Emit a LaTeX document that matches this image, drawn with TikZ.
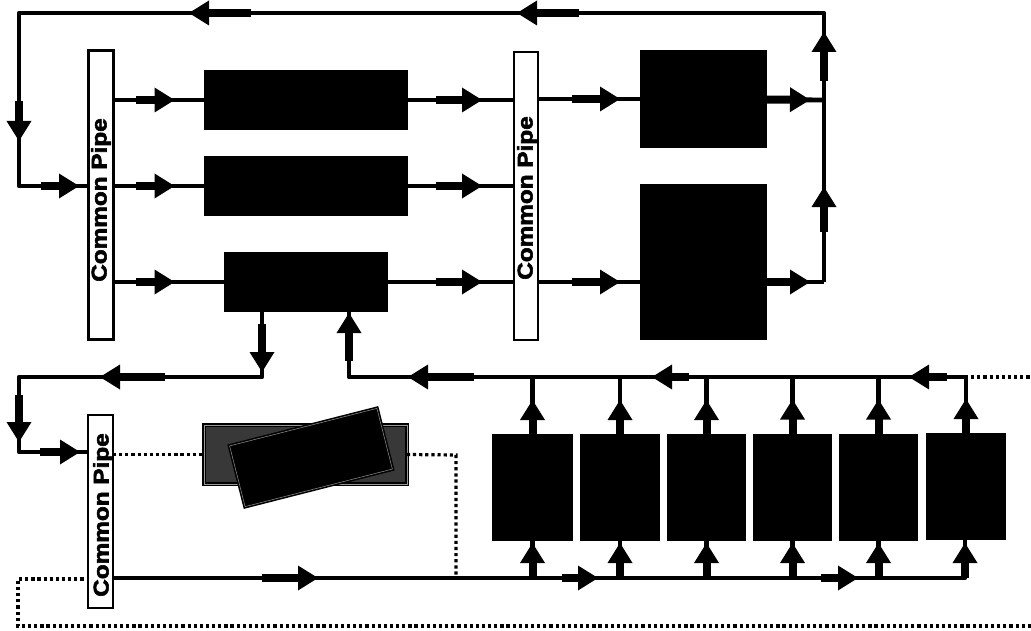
\documentclass[tikz,border=0pt]{standalone}
\usepackage{fontspec}
\setsansfont[BoldFeatures={FakeBold=2.5}]{Liberation Sans}
\usetikzlibrary{decorations.markings}

\tikzset{every picture/.style={line width=0.75pt}}
\tikzset{
	block/.style 2 args={fill=black,inner sep=0pt,outer sep=0pt,minimum width=#1*0.75pt,minimum height=#2*0.75pt},
	pipebox/.style 2 args={draw=black,line width=2.2pt,fill=white,inner sep=0pt,outer sep=0pt,minimum width=#1*0.75pt,minimum height=#2*0.75pt},
	pipetext/.style={rotate=90,inner sep=0pt,font=\sffamily\bfseries\fontsize{16}{16}\selectfont},
	pipe/.style={draw=black,line width=3.6pt,line join=round},
	dotline/.style={draw=black,line width=2.4pt,dash pattern=on 2.4pt off 2.2pt},
	flow/.style 2 args={postaction={decorate,decoration={markings,mark=at position #1*0.75pt with {\fill[black] (-#2,-4) rectangle (-10,4); \fill[black] (-20,-12.5) -- (0,0) -- (-20,12.5) -- cycle;}}}},
}

\begin{document}
\begin{tikzpicture}[x=0.75pt,y=0.75pt,yscale=-1,xscale=1]
	\useasboundingbox (0,0) rectangle (1031,631);

	% Turn points
	\coordinate (jD) at (824,100);
	\coordinate (jE) at (824,282);
	\coordinate (topR) at (824,13);
	\coordinate (topL) at (19,13);
	\coordinate (feedA) at (19,186);
	\coordinate (cDown) at (262,377);
	\coordinate (cUp) at (349,377);
	\coordinate (retL) at (19,377);
	\coordinate (feedC) at (19,452);
	\coordinate (retR) at (965,377);
	\coordinate (supR) at (965,578);
	\coordinate (dotTop) at (1031,377);
	\coordinate (dotBR) at (1031,626);
	\coordinate (dotBL) at (18,626);
	\coordinate (dotUp) at (18,579);
	\coordinate (dotTurn) at (456,455);
	\coordinate (dotEnd) at (456,578);

	% Common pipes
	\node[pipebox={25}{289}] (pipeA) at (101,195) {};
	\node[pipebox={24}{288}] (pipeB) at (526,196) {};
	\node[pipebox={25}{193}] (pipeC) at (100.5,511.5) {};

	% Upper blocks
	\node[block={204}{60}] (boxA) at (306,100) {};
	\node[block={204}{60}] (boxB) at (306,186) {};
	\node[block={164}{60}] (boxC) at (306,282) {};
	\node[block={127}{98}] (boxD) at (703.5,99) {};
	\node[block={127}{156}] (boxE) at (703.5,262) {};

	% Lower blocks
	\node[block={81}{107}] (unitA) at (532.5,487.5) {};
	\node[block={80}{107}] (unitB) at (620,487.5) {};
	\node[block={79}{107}] (unitC) at (706.5,487.5) {};
	\node[block={79}{107}] (unitD) at (792.5,487) {};
	\node[block={79}{107}] (unitE) at (878.5,487) {};
	\node[block={80}{107}] (unitF) at (966,486.5) {};

	% Gray block and the tilted block over it
	\node[draw=black,double=black!40,line width=1.2pt,double distance=0.4pt,fill=black!78,inner sep=0pt,outer sep=0pt,minimum width=152pt,minimum height=44pt] (boxG) at (305.5,454.5) {};
	\node[draw=black,double=black!45,line width=1.2pt,double distance=0.4pt,fill=black,inner sep=0pt,rotate=14.3,minimum width=114pt,minimum height=47pt] (boxT) at (311,457.5) {};

	% Dotted lines
	\draw[dotline] (pipeC.east |- boxG) -- (boxG.west);
	\draw[dotline] (boxG.east) -- (dotTurn) -- (dotEnd);
	\draw[dotline] (retR) -- (dotTop);
	\draw[dotline] (dotBR) -- (dotBL) -- (dotUp) -- (pipeC.west |- dotUp);

	% Outer loop
	\draw[pipe,flow={95}{45},flow={250}{49},flow={576}{62},flow={904}{62},flow={1202}{40},flow={1307}{38}] (jE) -- (topR) -- (topL) -- (feedA) -- (pipeA.west |- feedA);

	% Rows from the first pipe
	\draw[pipe,flow={61}{39}] (pipeA.east |- boxA) -- (boxA);
	\draw[pipe,flow={61}{39}] (pipeA.east |- boxB) -- (boxB);
	\draw[pipe,flow={61}{39}] (pipeA.east |- boxC) -- (boxC);

	% Rows to the second pipe
	\draw[pipe,flow={74}{46}] (boxA) -- (pipeB.west |- boxA);
	\draw[pipe,flow={74}{46}] (boxB) -- (pipeB.west |- boxB);
	\draw[pipe,flow={94}{46}] (boxC) -- (pipeB.west |- boxC);

	% Rows from the second pipe
	\draw[pipe,flow={82}{48}] (pipeB.east |- boxD) -- (boxD);
	\draw[pipe,flow={82}{48}] (pipeB.east |- jE) -- (boxE.west |- jE);
	\draw[pipe,flow={43}{43}] (boxD) -- (jD);
	\draw[pipe,flow={43}{43}] (boxE.east |- jE) -- (jE);

	% Lower loop
	\draw[pipe,flow={60}{48},flow={227}{65},flow={373}{47},flow={444}{40}] (boxC.south -| cDown) -- (cDown) -- (retL) -- (feedC) -- (pipeC.west |- feedC);
	\draw[pipe,flow={56}{38},flow={313}{37},flow={557}{66},flow={680}{48}] (retR) -- (cUp) -- (boxC.south -| cUp);
	\draw[pipe,flow={205}{56},flow={485}{36},flow={745}{37},flow={887}{35}] (pipeC.east |- supR) -- (supR) -- (unitF.south -| supR);

	% Lower blocks, outlets
	\draw[pipe,flow={34}{34}] (unitA.north) -- (unitA.north |- retR);
	\draw[pipe,flow={34}{34}] (unitB.north) -- (unitB.north |- retR);
	\draw[pipe,flow={34}{34}] (unitC.north) -- (unitC.north |- retR);
	\draw[pipe,flow={34}{34}] (unitD.north) -- (unitD.north |- retR);
	\draw[pipe,flow={34}{34}] (unitE.north) -- (unitE.north |- retR);
	\draw[pipe,flow={34}{34}] (unitF.north) -- (unitF.north |- retR);

	% Lower blocks, inlets
	\draw[pipe,flow={35}{35}] (unitA.south |- supR) -- (unitA.south);
	\draw[pipe,flow={35}{35}] (unitB.south |- supR) -- (unitB.south);
	\draw[pipe,flow={35}{35}] (unitC.south |- supR) -- (unitC.south);
	\draw[pipe,flow={35}{35}] (unitD.south |- supR) -- (unitD.south);
	\draw[pipe,flow={35}{35}] (unitE.south |- supR) -- (unitE.south);

	% Text Node
	\node[pipetext] (labelA) at (101,200) {\scalebox{1.14}[1]{Common Pipe}};
	% Text Node
	\node[pipetext] (labelB) at (527,198) {\scalebox{1.14}[1]{Common Pipe}};
	% Text Node
	\node[pipetext] (labelC) at (103,515) {\scalebox{1.14}[1]{Common Pipe}};

\end{tikzpicture}
\end{document}
